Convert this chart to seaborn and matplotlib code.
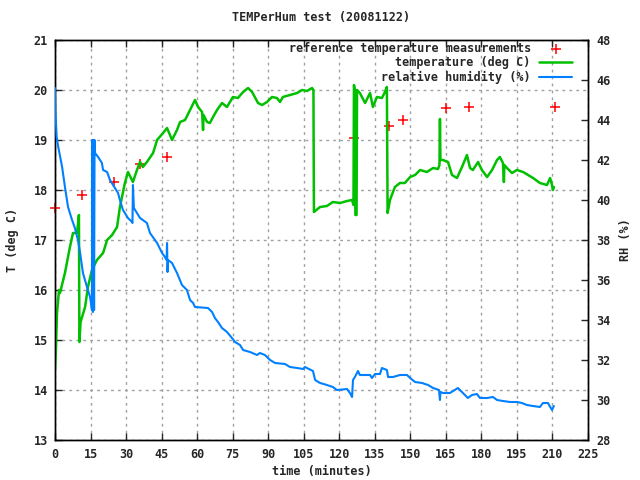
import matplotlib
matplotlib.use("Agg")
import matplotlib.pyplot as plt
import seaborn as sns
import pandas as pd

# ---- data ----
ref_time = [0.0, 11.4, 24.9, 35.9, 47.3, 126.2, 141.0, 146.9, 165.2, 174.8, 211.0]
ref_temp = [17.63, 17.90, 18.16, 18.52, 18.66, 19.03, 19.28, 19.40, 19.64, 19.65, 19.65]

temp_time = [0.0, 0.42, 0.84, 1.7, 2.1, 4.2, 6.3, 7.6, 9.3, 10.1, 10.3, 10.8, 12.7, 13.9,
             15.6, 17.7, 20.3, 22.0, 24.1, 26.2, 27.4, 29.5, 30.8, 32.9, 34.6, 35.9,
             37.1, 38.8, 41.4, 43.1, 45.6, 47.3, 49.4, 51.5, 52.8, 54.9, 57.0, 59.1,
             60.4, 62.1, 62.5, 62.7, 64.2, 65.4, 66.7, 68.4, 70.5, 72.6, 75.1, 77.2,
             79.4, 81.5, 83.2, 85.7, 87.4, 89.5, 91.6, 93.7, 95.0, 96.2, 99.2, 102.2,
             104.3, 106.4, 108.5, 109.1, 109.3, 111.9, 114.8, 117.3, 120.3, 123.3,
             125.4, 126.0, 126.2, 126.6, 126.8, 127.3, 127.5, 128.7, 130.9, 133.0,
             134.2, 135.9, 138.0, 139.3, 140.1, 140.4, 141.4, 143.5, 145.6, 147.7,
             149.9, 152.0, 154.1, 157.0, 159.6, 161.7, 162.3, 162.5, 162.7, 163.8,
             165.9, 167.6, 169.7, 171.8, 173.9, 175.2, 176.4, 178.6, 180.2, 182.4,
             184.5, 186.6, 187.8, 189.1, 189.5, 189.7, 190.8, 192.9, 195.0, 197.6,
             199.7, 201.8, 204.7, 207.7, 209.0, 209.8, 210.2, 210.6]
temp_vals = [14.40, 14.86, 15.54, 16.00, 15.94, 16.34, 16.86, 17.14, 17.14, 17.50, 14.96,
             15.36, 15.66, 16.06, 16.40, 16.60, 16.74, 17.00, 17.10, 17.26, 17.66, 18.14,
             18.36, 18.16, 18.40, 18.56, 18.46, 18.56, 18.74, 19.00, 19.14, 19.24, 19.00,
             19.20, 19.36, 19.40, 19.60, 19.80, 19.66, 19.56, 19.20, 19.50, 19.36, 19.34,
             19.46, 19.60, 19.74, 19.66, 19.86, 19.84, 19.96, 20.04, 19.96, 19.74, 19.70,
             19.76, 19.86, 19.84, 19.76, 19.86, 19.90, 19.94, 20.00, 19.98, 20.04, 20.00,
             17.56, 17.66, 17.68, 17.76, 17.74, 17.78, 17.80, 17.70, 20.10, 20.00, 17.50,
             17.50, 20.00, 19.94, 19.74, 19.94, 19.66, 19.86, 19.84, 19.96, 20.06, 17.54,
             17.80, 18.06, 18.14, 18.14, 18.26, 18.30, 18.40, 18.36, 18.44, 18.42, 18.50,
             19.42, 18.60, 18.60, 18.56, 18.30, 18.24, 18.46, 18.70, 18.44, 18.40, 18.56,
             18.40, 18.26, 18.40, 18.60, 18.66, 18.54, 18.16, 18.50, 18.44, 18.34, 18.40,
             18.36, 18.30, 18.24, 18.14, 18.10, 18.24, 18.10, 18.00, 18.06]

hum_time = [0.0, 0.2, 0.7, 1.3, 3.0, 4.2, 5.5, 7.2, 8.4, 9.7, 10.6, 11.8, 13.5, 14.8,
            15.6, 15.8, 16.0, 16.2, 16.5, 16.7, 16.9, 18.2, 19.8, 20.3, 22.0, 23.2,
            25.3, 26.6, 27.4, 28.7, 30.8, 32.5, 32.7, 32.9, 33.3, 34.6, 35.9, 38.8,
            40.1, 43.1, 45.2, 46.4, 47.1, 47.3, 47.5, 47.7, 49.4, 51.5, 53.6, 55.7,
            57.0, 58.3, 59.1, 64.6, 66.3, 67.5, 68.8, 70.5, 72.6, 74.7, 76.0, 78.1,
            79.4, 82.3, 85.3, 86.5, 88.6, 90.8, 92.9, 97.1, 99.2, 102.2, 104.7, 105.5,
            108.9, 109.8, 111.9, 114.8, 117.3, 119.0, 123.3, 124.5, 125.4, 125.8,
            126.6, 127.9, 128.7, 133.0, 133.8, 135.1, 137.2, 138.0, 140.1, 140.6,
            142.7, 145.6, 148.6, 149.9, 152.0, 154.9, 157.5, 159.6, 162.1, 162.5,
            162.7, 163.8, 166.7, 170.1, 172.2, 174.3, 176.0, 178.1, 179.4, 182.4,
            184.9, 186.6, 189.1, 192.1, 195.0, 197.1, 199.2, 201.8, 204.7, 206.0,
            208.1, 209.8, 210.6]
hum_vals = [45.60, 44.40, 43.15, 42.70, 41.65, 40.65, 39.65, 39.00, 38.60, 38.00, 37.35,
            36.35, 35.65, 35.15, 34.50, 43.00, 34.40, 43.00, 34.50, 43.00, 42.35, 42.15,
            41.85, 41.50, 41.40, 41.00, 40.60, 40.35, 40.00, 39.50, 39.10, 38.90, 38.85,
            40.75, 39.60, 39.35, 39.10, 38.85, 38.35, 37.85, 37.35, 37.15, 37.00, 37.85,
            36.40, 37.00, 36.85, 36.35, 35.75, 35.50, 35.00, 34.85, 34.65, 34.60, 34.40,
            34.10, 33.90, 33.60, 33.40, 33.10, 32.90, 32.75, 32.50, 32.40, 32.25, 32.35,
            32.25, 32.00, 31.85, 31.80, 31.65, 31.60, 31.55, 31.65, 31.45, 31.00, 30.85,
            30.75, 30.65, 30.50, 30.55, 30.35, 30.15, 31.00, 31.15, 31.45, 31.25, 31.25,
            31.10, 31.30, 31.30, 31.60, 31.50, 31.15, 31.15, 31.25, 31.25, 31.10, 30.90,
            30.85, 30.75, 30.60, 30.50, 30.00, 30.40, 30.35, 30.35, 30.60, 30.35, 30.10,
            30.25, 30.30, 30.10, 30.10, 30.15, 30.00, 29.95, 29.90, 29.90, 29.85, 29.75,
            29.70, 29.65, 29.85, 29.85, 29.50, 29.70]

x_ticks = list(range(0, 226, 15))
y_ticks = list(range(13, 22))
y2_ticks = list(range(28, 49, 2))

# ---- style ----
sns.set_style("white")
plt.rcParams["font.family"] = ["DejaVu Sans Mono", "DejaVu Sans"]
plt.rcParams["font.weight"] = "bold"
plt.rcParams["font.size"] = 8.5

RED = "#FF0000"
GREEN = "#00C000"
BLUE = "#0080FF"
FS = 8.5

ref_df = pd.DataFrame({"t": ref_time, "T": ref_temp})
temp_df = pd.DataFrame({"t": temp_time, "T": temp_vals})
hum_df = pd.DataFrame({"t": hum_time, "RH": hum_vals})

fig = plt.figure(figsize=(6.4, 4.8), dpi=100)
ax = fig.add_axes([55 / 640, 40 / 480, 533 / 640, 400 / 480])
ax2 = ax.twinx()

sns.scatterplot(data=ref_df, x="t", y="T", ax=ax, marker="+", s=50, color=RED,
                linewidth=1.1, label="reference temperature measurements", zorder=3,
                clip_on=False)
sns.lineplot(data=temp_df, x="t", y="T", ax=ax, color=GREEN, linewidth=1.8,
             estimator=None, sort=False, label="temperature (deg C)", zorder=4)
sns.lineplot(data=hum_df, x="t", y="RH", ax=ax2, color=BLUE, linewidth=1.5,
             estimator=None, sort=False, label="relative humidity (%)", zorder=4)

ax.set_xlim(0, 225)
ax.set_ylim(13, 21)
ax2.set_ylim(28, 48)
ax.set_xticks(x_ticks)
ax.set_yticks(y_ticks)
ax2.set_yticks(y2_ticks)

grid_kw = dict(color="#a0a0a0", linestyle=(0, (2, 3)), linewidth=1.0)
ax.grid(True, **grid_kw)
ax.set_axisbelow(True)

ax.tick_params(axis="x", which="both", direction="in", top=True, bottom=True,
               length=5, width=1, pad=5.5, labelsize=FS)
ax.tick_params(axis="y", which="both", direction="in", left=True, right=False,
               length=5, width=1, pad=5, labelsize=FS)
ax2.tick_params(axis="y", direction="in", right=True, length=5, width=1, pad=6,
                labelsize=FS)

for a in (ax, ax2):
    for sp in a.spines.values():
        sp.set_color("black")
        sp.set_linewidth(1.0)
        sp.set_visible(True)

ax.set_xlabel("time (minutes)", fontsize=FS, fontweight="bold")
ax.set_ylabel("T (deg C)", fontsize=FS, fontweight="bold")
ax2.set_ylabel("RH (%)", fontsize=FS, fontweight="bold", rotation=90)
ax.xaxis.set_label_coords(0.5, (440 - 465) / 400)
ax.yaxis.set_label_coords((19 - 55) / 533, 0.5)
ax2.yaxis.set_label_coords((619 - 55) / 533, 0.5)
ax.set_title("TEMPerHum test (20081122)", fontsize=FS, fontweight="bold", pad=14)

h1, l1 = ax.get_legend_handles_labels()
h2, l2 = ax2.get_legend_handles_labels()
if ax.get_legend():
    ax.get_legend().remove()
if ax2.get_legend():
    ax2.get_legend().remove()
leg = ax2.legend(h1 + h2, l1 + l2, loc="upper right", frameon=False, markerfirst=False,
                 handlelength=2.8, handletextpad=0.7, borderaxespad=0.1,
                 labelspacing=0.12, fontsize=FS,
                 bbox_to_anchor=((578 - 55) / 533, 1.0 + 4 / 400))
for t in leg.get_texts():
    t.set_fontweight("bold")

ax.set_zorder(ax2.get_zorder() - 1)
ax.patch.set_visible(True)
ax2.patch.set_visible(False)
fig.savefig("out.png", dpi=100, facecolor="white")
